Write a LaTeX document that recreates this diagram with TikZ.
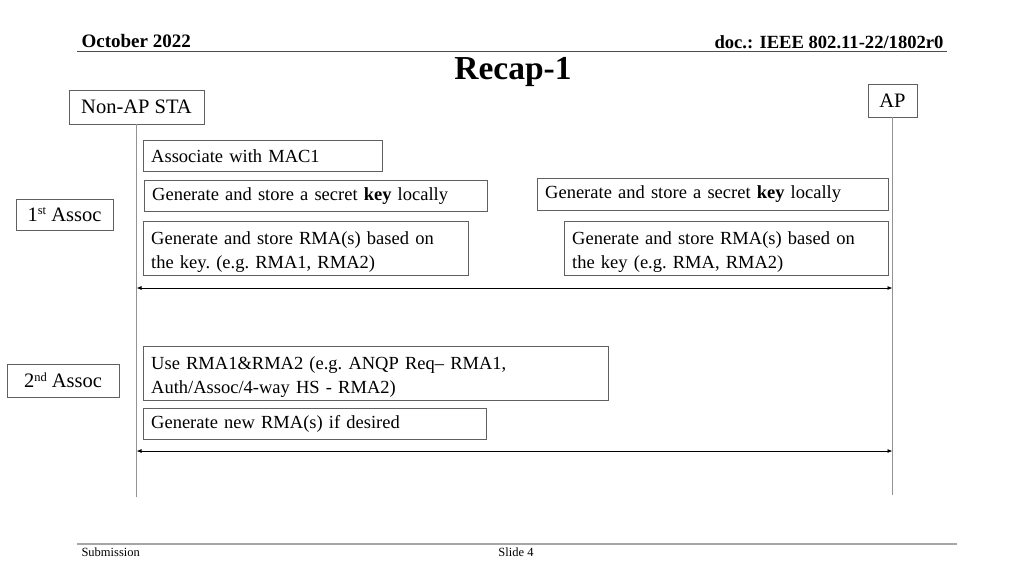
\documentclass[tikz,border=0pt]{standalone}
\usepackage{fontspec}
\setmainfont{Liberation Serif}
\usetikzlibrary{positioning,arrows.meta}

\newcommand{\ordsup}[1]{\raisebox{6.5pt}{\fontsize{12.5}{13}\selectfont #1}}

\tikzset{
  msgbox/.style={draw=gray!75!black, anchor=north west, align=left,
    inner xsep=8pt, inner ysep=1pt, font=\fontsize{18.5}{24}\selectfont\frenchspacing},
  rolebox/.style={draw=gray!75!black, inner sep=0pt, font=\fontsize{20.5}{24}\selectfont},
  lifeline/.style={draw=gray!85, line width=1.8pt},
  exch/.style={{Latex[length=5pt,width=4pt]}-{Latex[length=5pt,width=4pt]}, line width=0.8pt}
}

\begin{document}
\begin{tikzpicture}[x=1pt,y=-1pt]
  \useasboundingbox (0,0) rectangle (1024,576);

  % header and footer
  \node[anchor=base west, font=\fontsize{19}{21}\selectfont\bfseries] (month) at (78,47) {October 2022};
  \node[anchor=base east, font=\fontsize{18.6}{21}\selectfont\bfseries] (doc) at (947,48) {doc.: IEEE 802.11-22/1802r0};
  \draw[gray!60!black, line width=0.8pt] (77,51) -- (947,51);
  \node[font=\fontsize{33.5}{36}\selectfont\bfseries] (title) at (513,72) {Recap-1};
  \draw[gray!70, line width=1.8pt] (77,544) -- (957,544);
  \node[anchor=base west, font=\fontsize{12.5}{14}\selectfont] (sub) at (78,556) {Submission};
  \node[anchor=base, font=\fontsize{12.5}{14}\selectfont] (slide) at (516,556) {Slide 4};

  % roles and lifelines
  \node[rolebox, minimum width=135pt, minimum height=34pt] (sta) at (136.5,107) {Non-AP STA};
  \node[rolebox, minimum width=49pt, minimum height=33pt] (ap) at (892.5,100.5) {AP};
  \coordinate (staend) at (sta.south |- 0,497);
  \coordinate (apend) at (ap.south |- 0,495);
  \draw[lifeline] (sta.south) -- (staend);
  \draw[lifeline] (ap.south) -- (apend);

  % phases
  \node[rolebox, minimum width=97pt, minimum height=31pt] (first) at (64.5,214.5) {1\ordsup{st} Assoc};
  \node[rolebox, minimum width=112pt, minimum height=33pt] (second) at (63,380.5) {2\ordsup{nd} Assoc};

  % 1st association
  \node[msgbox, text width=223pt, minimum height=31pt] (mac) at (143,140) {Associate with MAC1};
  \node[msgbox, text width=327pt, minimum height=31pt] (keysta) at (144,180) {Generate and store a secret \textbf{key} locally};
  \node[msgbox, text width=309pt, minimum height=54pt] (rmasta) at (143,221) {\rule{0pt}{21pt}Generate and store RMA(s) based on\\the key. (e.g. RMA1, RMA2)};
  \node[msgbox, text width=335pt, minimum height=32pt] (keyap) at (537,178) {Generate and store a secret \textbf{key} locally};
  \node[msgbox, text width=308pt, minimum height=54pt] (rmaap) at (564,221) {\rule{0pt}{21pt}Generate and store RMA(s) based on\\the key (e.g. RMA, RMA2)};
  \coordinate (s1) at (sta.south |- 0,288);
  \coordinate (a1) at (ap.south |- 0,288);
  \draw[exch] (s1) -- (a1);

  % 2nd association
  \node[msgbox, text width=449pt, minimum height=54pt] (use) at (143,346) {\rule{0pt}{21pt}Use RMA1\&RMA2 (e.g. ANQP Req-- RMA1,\\Auth/Assoc/4-way HS - RMA2)};
  \node[msgbox, text width=327pt, minimum height=31pt] (newrma) at (143,408) {Generate new RMA(s) if desired};
  \coordinate (s2) at (sta.south |- 0,451);
  \coordinate (a2) at (ap.south |- 0,451);
  \draw[exch] (s2) -- (a2);
\end{tikzpicture}
\end{document}
